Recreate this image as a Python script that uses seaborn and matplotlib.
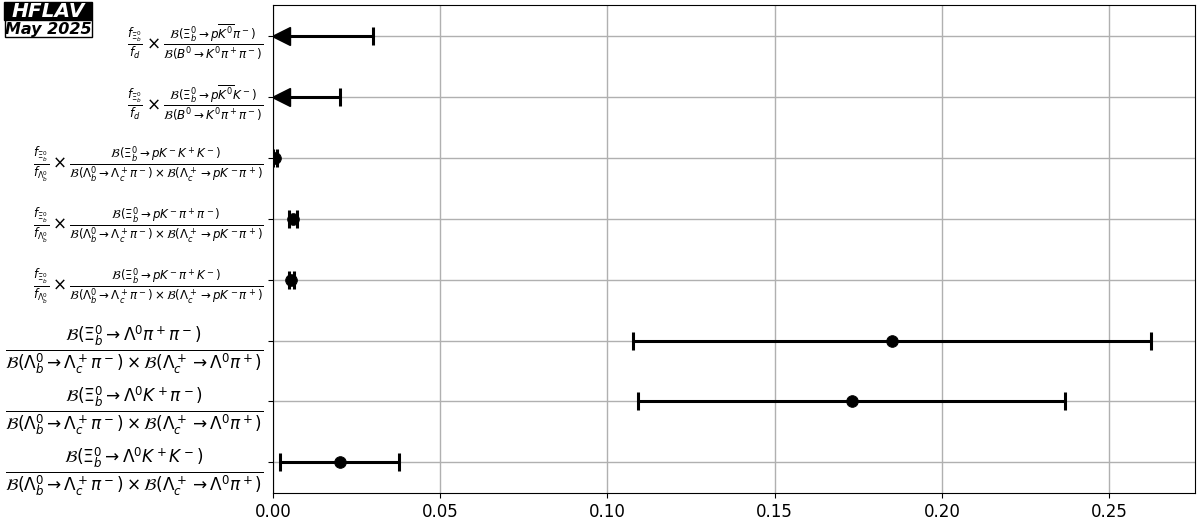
import numpy as np
import matplotlib
matplotlib.use("Agg")
import matplotlib.pyplot as plt
from matplotlib.patches import Rectangle
import seaborn as sns

# labels, top to bottom
labels = [
    r'$\frac{f_{\Xi_b^0}}{f_d} \times \frac{\mathcal{B}(\Xi_b^0 \to p\overline{K^0}\pi^-)}{\mathcal{B}(B^0 \to K^0\pi^+\pi^-)}$',
    r'$\frac{f_{\Xi_b^0}}{f_d} \times \frac{\mathcal{B}(\Xi_b^0 \to p\overline{K^0}K^-)}{\mathcal{B}(B^0 \to K^0\pi^+\pi^-)}$',
    r'$\frac{f_{\Xi_b^0}}{f_{\Lambda_b^0}} \times \frac{\mathcal{B}(\Xi_b^0 \to pK^-K^+K^-)}{\mathcal{B}(\Lambda_b^0 \to \Lambda_c^+\pi^-) \times \mathcal{B}(\Lambda_c^+ \to pK^-\pi^+)}$',
    r'$\frac{f_{\Xi_b^0}}{f_{\Lambda_b^0}} \times \frac{\mathcal{B}(\Xi_b^0 \to pK^-\pi^+\pi^-)}{\mathcal{B}(\Lambda_b^0 \to \Lambda_c^+\pi^-) \times \mathcal{B}(\Lambda_c^+ \to pK^-\pi^+)}$',
    r'$\frac{f_{\Xi_b^0}}{f_{\Lambda_b^0}} \times \frac{\mathcal{B}(\Xi_b^0 \to pK^-\pi^+K^-)}{\mathcal{B}(\Lambda_b^0 \to \Lambda_c^+\pi^-) \times \mathcal{B}(\Lambda_c^+ \to pK^-\pi^+)}$',
    r'$\frac{\mathcal{B}(\Xi_b^0 \to \Lambda^0\pi^+\pi^-)}{\mathcal{B}(\Lambda_b^0 \to \Lambda_c^+\pi^-) \times \mathcal{B}(\Lambda_c^+ \to \Lambda^0\pi^+)}$',
    r'$\frac{\mathcal{B}(\Xi_b^0 \to \Lambda^0K^+\pi^-)}{\mathcal{B}(\Lambda_b^0 \to \Lambda_c^+\pi^-) \times \mathcal{B}(\Lambda_c^+ \to \Lambda^0\pi^+)}$',
    r'$\frac{\mathcal{B}(\Xi_b^0 \to \Lambda^0K^+K^-)}{\mathcal{B}(\Lambda_b^0 \to \Lambda_c^+\pi^-) \times \mathcal{B}(\Lambda_c^+ \to \Lambda^0\pi^+)}$',
]
label_sizes = [12.2, 12.2, 12.1, 12.1, 12.1, 17.3, 17.3, 17.3]

# upper limits (rows 0,1)
limit_rows = [0, 1]
limit_vals = [0.030, 0.020]

# measurements (rows 2..7)
meas_rows = [2, 3, 4, 5, 6, 7]
meas_vals = [0.0007, 0.0059, 0.0054, 0.185, 0.173, 0.020]
meas_lo = [0.0006, 0.0010, 0.0007, 0.0774, 0.0638, 0.0179]
meas_hi = [0.0006, 0.0012, 0.0009, 0.0776, 0.0638, 0.0177]

fig, ax = plt.subplots(figsize=(12, 5.28), dpi=100)
fig.subplots_adjust(left=0.2275, right=0.9958, top=0.9905, bottom=0.0663)

# upper limits: line from 0 to limit, cap at limit, arrow at 0
for r, v in zip(limit_rows, limit_vals):
    ax.errorbar([v / 2], [r], xerr=[[v / 2], [v / 2]], fmt='none', ecolor='black',
                elinewidth=2.2, capsize=0, zorder=3)
    ax.plot([v], [r], marker='|', color='black', markersize=13.6, mew=2.2, zorder=3)
    ax.plot([0.0025], [r], marker='<', color='black', markersize=13, zorder=4)

ax.errorbar(meas_vals, meas_rows, xerr=[meas_lo, meas_hi], fmt='none', ecolor='black',
            elinewidth=2.2, capsize=6.8, capthick=2.2, zorder=3)
sns.scatterplot(x=meas_vals, y=meas_rows, color='black', s=70, edgecolor='black',
                ax=ax, zorder=4)

ax.set_xlim(0, 0.2757)
ax.set_ylim(7.5, -0.5)
ax.set_yticks(range(len(labels)))
ax.set_yticklabels(labels)
for t, s in zip(ax.get_yticklabels(), label_sizes):
    t.set_fontsize(s)
ax.set_xticks([0, 0.05, 0.10, 0.15, 0.20, 0.25])
ax.set_xticklabels(['0.00', '0.05', '0.10', '0.15', '0.20', '0.25'], fontsize=12)
ax.grid(True, color='#b0b0b0', linewidth=1)
ax.set_axisbelow(True)

# HFLAV logo
fig.patches.append(Rectangle((0.0033, 0.9621), 0.0733, 0.0341, transform=fig.transFigure,
                             facecolor='black', edgecolor='black', linewidth=1))
fig.patches.append(Rectangle((0.0042, 0.9299), 0.0724, 0.0322, transform=fig.transFigure,
                             facecolor='white', edgecolor='black', linewidth=1))
fig.text(0.040, 0.978, 'HFLAV', fontsize=14.5, fontweight='bold', style='italic',
         color='white', va='center', ha='center')
fig.text(0.040, 0.945, 'May 2025', fontsize=11.5, fontweight='bold', style='italic',
         color='black', va='center', ha='center')

fig.savefig('out.png', dpi=100)
